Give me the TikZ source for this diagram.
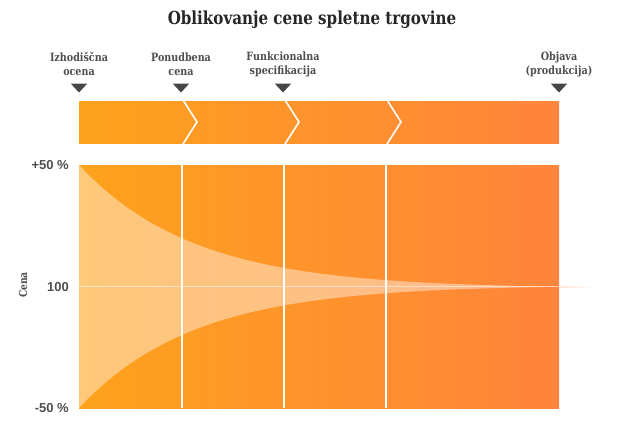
\documentclass[tikz,border=0pt]{standalone}
\usepackage{fontspec}
\setmainfont{DejaVu Serif}
\newfontfamily\slabfont[FakeStretch=0.84]{DejaVu Serif}
\setsansfont{Liberation Sans}
\usetikzlibrary{positioning, calc}
\definecolor{orgL}{RGB}{254,162,28}
\definecolor{orgR}{RGB}{255,132,60}
\definecolor{labelgray}{RGB}{78,78,78}
\tikzset{
  stagelabel/.style={
    font=\slabfont\bfseries\fontsize{11.4}{14}\selectfont,
    text=labelgray, align=center, inner sep=0pt
  },
  axislabel/.style={
    font=\sffamily\bfseries\fontsize{13}{14}\selectfont,
    text=labelgray, anchor=east, inner sep=0pt
  },
  stagemark/.style={fill=labelgray!90!black},
  whiteline/.style={white, line width=2pt},
}
\begin{document}
\begin{tikzpicture}[x=1pt, y=-1pt]
  \useasboundingbox (0,0) rectangle (625,423);

  % ---- TITLE ----
  \node[font=\slabfont\bfseries\fontsize{18}{21}\selectfont, text=black!85]
    (title) at (312,20) {Oblikovanje cene spletne trgovine};

  % ---- STAGES ----
  \foreach \x/\name/\txt in {79/izh/{Izhodiščna\\ocena},
      181/pon/{Ponudbena\\cena},
      283/fun/{Funkcionalna\\specifikacija},
      559/obj/{Objava\\(produkcija)}}{
    \node[stagelabel] (\name) at (\x,64) {\txt};
    \fill[stagemark] (\x-8.3,83.5) -- (\x+8.3,83.5) -- (\x,92.5) -- cycle;
  }

  % Process bar with chevrons
  \shade[left color=orgL, right color=orgR] (79,101) rectangle (559,143);
  \foreach \x in {183,285,387}{
    \draw[whiteline, line width=1.6pt, line join=miter]
      (\x,100) -- (\x+14,122) -- (\x,144);
  }

  % ---- PRICE CHART ----
  \shade[left color=orgL, right color=orgR] (79,165) rectangle (559,408);

  % Uncertainty funnel
  \fill[white, opacity=0.42]
    plot[domain=0:480, samples=120]
      ({79+\x},{286.7-121.7*(exp(-\x/114.5)-0.0151)/0.9849})
    -- plot[domain=480:0, samples=120]
      ({79+\x},{286.7+121.3*(exp(-\x/114.5)-0.0151)/0.9849})
    -- cycle;

  % Centre line
  \draw[white, opacity=0.55, line width=1.4pt] (79,286.7) -- (559,286.7);
  \shade[left color=orgR!22, right color=white]
    (559,286) rectangle (594,287.4);

  % Stage separators
  \foreach \x in {181.7,283.7,386}{
    \draw[whiteline] (\x,165) -- (\x,408);
  }

  % Axis labels
  \node[axislabel] (plus) at (69,165) {+50 \%};
  \node[axislabel] (mid) at (69,287) {100};
  \node[axislabel] (minus) at (69,408) {-50 \%};
  \node[font=\slabfont\bfseries\fontsize{11}{12}\selectfont, text=labelgray,
    rotate=90] (cena) at (23,285) {Cena};
\end{tikzpicture}
\end{document}
